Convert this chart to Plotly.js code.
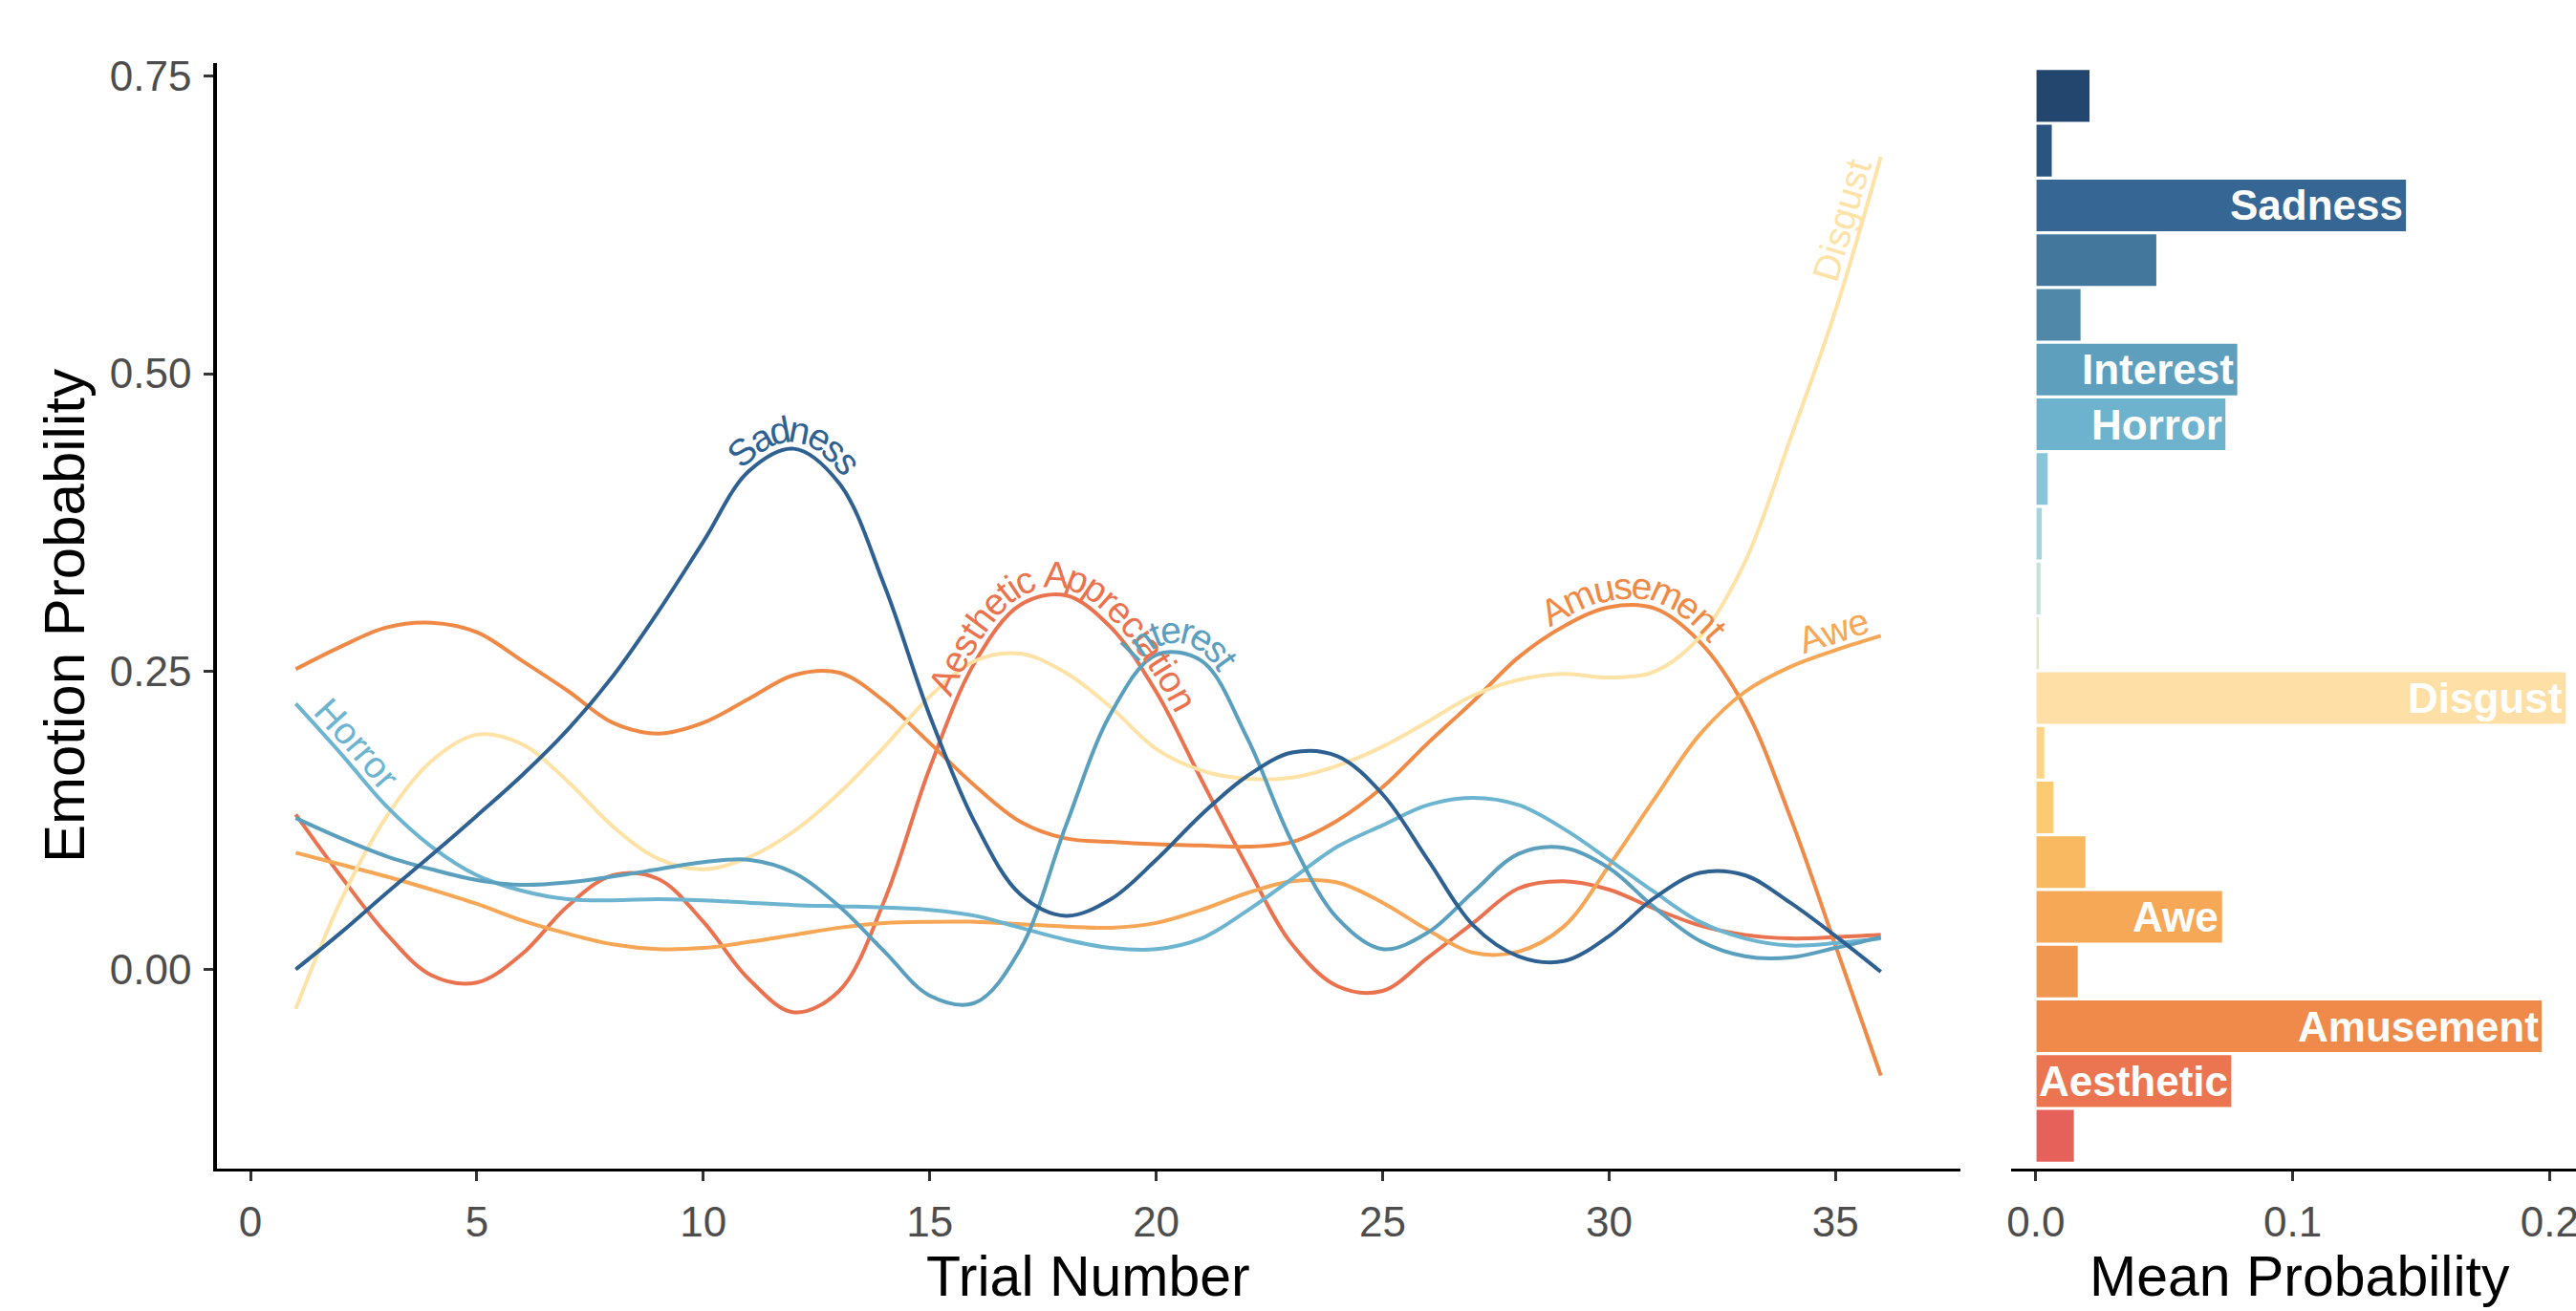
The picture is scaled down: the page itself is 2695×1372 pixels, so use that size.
<!DOCTYPE html>
<html>
<head>
<meta charset="utf-8">
<script src="https://cdn.plot.ly/plotly-3.0.1.min.js"></script>
<style>
html,body{margin:0;padding:0;background:#ffffff;}
#chart{width:2695px;height:1372px;}
</style>
</head>
<body>
<div id="chart"></div>
<script>
// ---------------- DATA ----------------
const trials = [1,2,3,4,5,6,7,8,9,10,11,12,13,14,15,16,17,18,19,20,21,22,23,24,25,26,27,28,29,30,31,32,33,34,35,36];

const sadness   = [0.000,0.031,0.064,0.096,0.129,0.163,0.201,0.246,0.300,0.359,0.418,0.437,0.408,0.322,0.213,0.123,0.063,0.045,0.059,0.092,0.130,0.162,0.182,0.179,0.147,0.092,0.037,0.011,0.007,0.028,0.060,0.081,0.079,0.056,0.028,-0.002];
const interest  = [0.127,0.110,0.095,0.084,0.075,0.071,0.073,0.078,0.084,0.090,0.092,0.081,0.053,0.015,-0.022,-0.028,0.017,0.120,0.215,0.264,0.259,0.195,0.107,0.043,0.017,0.031,0.065,0.097,0.102,0.085,0.052,0.024,0.011,0.010,0.018,0.027];
const horror    = [0.223,0.181,0.137,0.103,0.079,0.066,0.059,0.058,0.059,0.058,0.056,0.054,0.053,0.052,0.050,0.045,0.035,0.025,0.018,0.017,0.026,0.049,0.076,0.103,0.121,0.138,0.144,0.138,0.118,0.092,0.065,0.040,0.026,0.020,0.022,0.026];
const disgust   = [-0.033,0.058,0.128,0.175,0.197,0.189,0.158,0.120,0.093,0.084,0.094,0.116,0.148,0.187,0.229,0.259,0.265,0.249,0.220,0.185,0.167,0.160,0.161,0.171,0.187,0.208,0.230,0.243,0.248,0.245,0.250,0.279,0.342,0.445,0.553,0.682];
const awe       = [0.098,0.088,0.078,0.067,0.055,0.041,0.030,0.021,0.017,0.018,0.023,0.029,0.035,0.039,0.040,0.040,0.038,0.036,0.035,0.039,0.050,0.064,0.074,0.073,0.056,0.033,0.014,0.015,0.036,0.087,0.143,0.197,0.233,0.254,0.268,0.280];
const amusement = [0.252,0.271,0.287,0.291,0.283,0.259,0.234,0.207,0.198,0.207,0.227,0.247,0.249,0.225,0.190,0.154,0.124,0.110,0.107,0.105,0.104,0.103,0.107,0.125,0.153,0.190,0.225,0.262,0.288,0.304,0.303,0.275,0.220,0.128,0.020,-0.089];
const aesthetic = [0.130,0.078,0.030,-0.005,-0.011,0.013,0.053,0.079,0.076,0.040,-0.008,-0.036,-0.018,0.058,0.169,0.258,0.306,0.314,0.287,0.233,0.159,0.087,0.021,-0.014,-0.018,0.010,0.039,0.068,0.074,0.067,0.051,0.037,0.029,0.026,0.027,0.029];

const lineNames  = ['Aesthetic Appreciation','Amusement','Awe','Disgust','Horror','Interest','Sadness'];
const lineColors = ['#ea724e','#ef8945','#f6a654','#fee2a6','#6cb4cf','#5a9fbe','#2e6191'];

// Mean probability per emotion (bottom to top)
const barCategories = ['Admiration','Aesthetic Appreciation','Amusement','Anxiety','Awe','Awkwardness','Boredom','Confusion','Disgust','Empathic Pain','Entrancement','Excitement','Fear','Horror','Interest','Joy','Nostalgia','Sadness','Satisfaction','Surprise'];
const barValues     = [0.0151,0.0764,0.1972,0.0166,0.0728,0.0196,0.0072,0.0036,0.2066,0.0015,0.0021,0.0026,0.0049,0.0741,0.0787,0.0177,0.0472,0.1444,0.0065,0.0212];
const barLabels     = ['','Aesthetic','Amusement','','Awe','','','','Disgust','','','','','Horror','Interest','','','Sadness','',''];
const barColors     = ['#e6615a','#eb7550','#ef8a4b','#f0964f','#f6a857','#f9b960','#fcca6f','#fdd589','#fee0a7','#e6e3c6','#c5e1d8','#a2d5de','#87c6d9','#6eb3cd','#5d9fbd','#4f88a8','#43779c','#366693','#2a5580','#22466e'];

const xTickVals = [0,5,10,15,20,25,30,35];
const yTickVals = [0,0.25,0.5,0.75];
const yTickText = ['0.00','0.25','0.50','0.75'];
const bxTickVals = [0,0.1,0.2];
const bxTickText = ['0.0','0.1','0.2'];

// ---------------- LAYOUT GEOMETRY ----------------
const W = 2695, H = 1372;
const FONT = 'Liberation Sans, Arial, Helvetica, sans-serif';
const mainL = 226.5, mainR = 2050.6, panT = 66, panB = 1223;
const barL = 2103.5;
const xRange = [-0.75, 37.75];
const yRange = [-0.1672, 0.7607];

const seriesList = [aesthetic, amusement, awe, disgust, horror, interest, sadness];

const traces = [];
seriesList.forEach((s, i) => {
  traces.push({
    type: 'scatter', mode: 'lines', x: trials, y: s, name: lineNames[i],
    line: {color: lineColors[i], width: 4, shape: 'spline', smoothing: 1},
    xaxis: 'x', yaxis: 'y', hoverinfo: 'skip'
  });
});
traces.push({
  type: 'bar', orientation: 'h', x: barValues, y: barCategories,
  marker: {color: barColors, line: {color: '#ffffff', width: 1.5}},
  width: 0.97, xaxis: 'x2', yaxis: 'y2', hoverinfo: 'skip'
});

// ---------------- CURVED LABELS ----------------
const LABEL_SIZE = 39;
const canvas = document.createElement('canvas');
const ctx = canvas.getContext('2d');
ctx.font = LABEL_SIZE + 'px "Liberation Sans"';

function toPx(x, y) {
  return [mainL + (x - xRange[0]) / (xRange[1] - xRange[0]) * (mainR - mainL),
          panT + (yRange[1] - y) / (yRange[1] - yRange[0]) * (panB - panT)];
}
function toData(px, py) {
  return [xRange[0] + (px - mainL) / (mainR - mainL) * (xRange[1] - xRange[0]),
          yRange[1] - (py - panT) / (panB - panT) * (yRange[1] - yRange[0])];
}
function dense(pts, n) {
  const out = [];
  for (let i = 0; i < pts.length - 1; i++) {
    const p0 = pts[Math.max(0, i - 1)], p1 = pts[i], p2 = pts[i + 1], p3 = pts[Math.min(pts.length - 1, i + 2)];
    for (let k = 0; k < n; k++) {
      const t = k / n, t2 = t * t, t3 = t2 * t;
      const f = (a, b, c, d) => 0.5 * ((2 * b) + (-a + c) * t + (2 * a - 5 * b + 4 * c - d) * t2 + (-a + 3 * b - 3 * c + d) * t3);
      out.push([f(p0[0], p1[0], p2[0], p3[0]), f(p0[1], p1[1], p2[1], p3[1])]);
    }
  }
  out.push(pts[pts.length - 1]);
  return out;
}
function pathLabel(series, text, cx, off, color) {
  const pts = trials.map((t, i) => toPx(t, series[i]));
  const p = dense(pts, 24);
  const q = [];
  for (let i = 0; i < p.length; i++) {
    const a = p[Math.max(0, i - 2)], b = p[Math.min(p.length - 1, i + 2)];
    let tx = b[0] - a[0], ty = b[1] - a[1];
    const l = Math.hypot(tx, ty) || 1; tx /= l; ty /= l;
    q.push([p[i][0] + off * ty, p[i][1] - off * tx]);
  }
  const s = [0];
  for (let i = 1; i < q.length; i++) s.push(s[i - 1] + Math.hypot(q[i][0] - q[i - 1][0], q[i][1] - q[i - 1][1]));
  const pcx = toPx(cx, 0)[0];
  let i0 = 0, best = 1e9;
  p.forEach((pt, i) => { const d = Math.abs(pt[0] - pcx); if (d < best) { best = d; i0 = i; } });
  const at = (sv) => {
    if (sv <= 0) return q[0];
    if (sv >= s[s.length - 1]) return q[q.length - 1];
    let lo = 0, hi = s.length - 1;
    while (hi - lo > 1) { const m = (lo + hi) >> 1; if (s[m] <= sv) lo = m; else hi = m; }
    const f = (sv - s[lo]) / ((s[hi] - s[lo]) || 1);
    return [q[lo][0] + f * (q[hi][0] - q[lo][0]), q[lo][1] + f * (q[hi][1] - q[lo][1])];
  };
  const widths = [...text].map(c => ctx.measureText(c).width);
  const total = ctx.measureText(text).width;
  const scale = total / widths.reduce((a, b) => a + b, 0);
  let acc = s[i0] - total / 2;
  const anns = [];
  [...text].forEach((c, k) => {
    const w = widths[k] * scale;
    const sc = acc + w / 2;
    acc += w;
    if (c === ' ') return;
    const pos = at(sc), a = at(sc - 4), b = at(sc + 4);
    const ang = Math.atan2(b[1] - a[1], b[0] - a[0]) * 180 / Math.PI;
    const d = toData(pos[0], pos[1]);
    anns.push({
      x: d[0], y: d[1], xref: 'x', yref: 'y', text: c, showarrow: false,
      xanchor: 'center', yanchor: 'middle', textangle: ang,
      font: {family: FONT, size: LABEL_SIZE, color: color}
    });
  });
  return anns;
}

let annotations = [];
annotations = annotations.concat(
  pathLabel(sadness, 'Sadness', 12.0, 20, lineColors[6]),
  pathLabel(aesthetic, 'Aesthetic Appreciation', 17.9, 20, lineColors[0]),
  pathLabel(interest, 'Interest', 20.5, 20, lineColors[5]),
  pathLabel(horror, 'Horror', 2.05, 20, lineColors[4]),
  pathLabel(amusement, 'Amusement', 30.6, 20, lineColors[1]),
  pathLabel(awe, 'Awe', 35.1, 20, lineColors[2]),
  pathLabel(disgust, 'Disgust', 35.55, 21, lineColors[3])
);

// bar labels
barCategories.forEach((c, i) => {
  if (!barLabels[i]) return;
  annotations.push({
    x: barValues[i], y: c, xref: 'x2', yref: 'y2', text: '<b>' + barLabels[i] + '</b>',
    showarrow: false, xanchor: 'right', yanchor: 'middle', xshift: -2,
    font: {family: FONT, size: 44, color: '#ffffff'}
  });
});

// axis titles
annotations.push(
  {x: (mainL + mainR) / 2 / W, y: 1 - 1336 / H, xref: 'paper', yref: 'paper', text: 'Trial Number',
   showarrow: false, xanchor: 'center', yanchor: 'middle', borderpad: 0, font: {family: FONT, size: 59, color: '#000000'}},
  {x: 2406 / W, y: 1 - 1336 / H, xref: 'paper', yref: 'paper', text: 'Mean Probability',
   showarrow: false, xanchor: 'center', yanchor: 'middle', borderpad: 0, font: {family: FONT, size: 59, color: '#000000'}},
  {x: 67.5 / W, y: 1 - 644.5 / H, xref: 'paper', yref: 'paper', text: 'Emotion Probability', textangle: -90,
   showarrow: false, xanchor: 'center', yanchor: 'middle', font: {family: FONT, size: 60, color: '#000000'}}
);

const axisCommon = {
  showgrid: false, zeroline: false, showline: true, linecolor: '#000000', linewidth: 3.3,
  ticks: 'outside', ticklen: 10, tickwidth: 3, tickcolor: '#333333',
  tickfont: {family: FONT, size: 44, color: '#4d4d4d'}, fixedrange: true, automargin: false
};
const yDom = [1 - panB / H, 1 - panT / H];

const layout = {
  width: W, height: H,
  margin: {l: 0, r: 0, t: 0, b: 0, pad: 0},
  paper_bgcolor: '#ffffff', plot_bgcolor: 'rgba(0,0,0,0)',
  showlegend: false, hovermode: false,
  font: {family: FONT},
  xaxis: Object.assign({}, axisCommon, {domain: [mainL / W, mainR / W], range: xRange, tickvals: xTickVals, anchor: 'y', ticklabelstandoff: 5}),
  yaxis: Object.assign({}, axisCommon, {domain: yDom, range: yRange, tickvals: yTickVals, ticktext: yTickText, anchor: 'x', ticklabelstandoff: 4}),
  xaxis2: Object.assign({}, axisCommon, {domain: [barL / W, 1], range: [-0.0098, 0.2103], tickvals: bxTickVals, ticktext: bxTickText, anchor: 'y2', ticklabelstandoff: 5, ticklabeloverflow: 'allow'}),
  yaxis2: {domain: yDom, type: 'category', categoryorder: 'array', categoryarray: barCategories, range: [-0.6, 19.6],
           showline: false, showticklabels: false, ticks: '', showgrid: false, zeroline: false, anchor: 'x2', fixedrange: true},
  annotations: annotations
};

Plotly.newPlot('chart', traces, layout, {staticPlot: true, displayModeBar: false});
</script>
</body>
</html>
